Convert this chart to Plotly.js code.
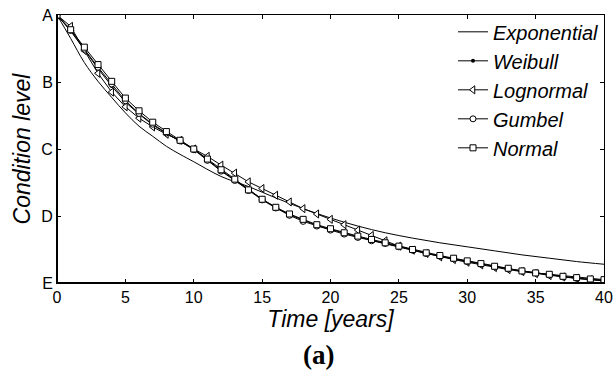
<!DOCTYPE html>
<html>
<head>
<meta charset="utf-8">
<script src="https://cdn.plot.ly/plotly-3.0.1.min.js"></script>
<style>html,body{margin:0;padding:0;background:#fff;}#chart{width:616px;height:380px;}</style>
</head>
<body>
<div id="chart"></div>
<script>
// Time axis (years)
const years = [0,1,2,3,4,5,6,7,8,9,10,11,12,13,14,15,16,17,18,19,20,21,22,23,24,25,26,27,28,29,30,31,32,33,34,35,36,37,38,39,40];
// Exponential model (smooth curve), sampled
const expYears = [0,1,2,3,4,5,6,7,8,9,10,12,14,16,18,20,22,24,26,28,30,32,34,36,38,40];
const expLevel = [1.00,1.35,1.71,1.99,2.23,2.46,2.66,2.81,2.96,3.08,3.19,3.41,3.56,3.73,3.89,4.03,4.15,4.25,4.33,4.40,4.46,4.52,4.58,4.63,4.68,4.72];
// Condition levels (1 = A ... 5 = E)
const weibull   = [1.00,1.24,1.52,1.80,2.06,2.30,2.48,2.64,2.77,2.88,3.00,3.16,3.32,3.46,3.61,3.75,3.87,3.98,4.06,4.14,4.20,4.26,4.31,4.36,4.41,4.46,4.51,4.55,4.60,4.64,4.68,4.72,4.76,4.79,4.82,4.85,4.88,4.91,4.93,4.95,4.96];
const lognormal = [1.00,1.17,1.53,1.87,2.15,2.37,2.54,2.67,2.78,2.87,3.00,3.11,3.24,3.36,3.49,3.59,3.69,3.79,3.89,3.97,4.05,4.13,4.21,4.29,4.37,4.45,4.51,4.56,4.61,4.65,4.69,4.73,4.77,4.80,4.83,4.86,4.89,4.91,4.93,4.95,4.96];
const gumbel    = [1.00,1.23,1.51,1.78,2.03,2.28,2.47,2.63,2.76,2.88,3.01,3.17,3.33,3.47,3.62,3.76,3.88,3.99,4.08,4.15,4.21,4.27,4.32,4.37,4.41,4.46,4.51,4.56,4.60,4.64,4.68,4.72,4.76,4.79,4.82,4.85,4.88,4.91,4.93,4.95,4.97];
const normal    = [1.00,1.22,1.48,1.74,1.99,2.24,2.43,2.60,2.74,2.87,3.00,3.15,3.31,3.45,3.61,3.75,3.87,3.97,4.05,4.13,4.19,4.25,4.30,4.35,4.40,4.45,4.50,4.55,4.59,4.63,4.67,4.71,4.75,4.78,4.82,4.85,4.87,4.90,4.92,4.94,4.95];
const levelVals = [1,2,3,4,5];
const levelText = ['A','B','C','D','E'];
const xTicks = [0,5,10,15,20,25,30,35,40];

const ln = {color:'#000', width:1};
const openMarker = (sym, size) => ({symbol:sym, size:size, color:'#fff', line:{color:'#000', width:1}});

const traces = [
  {x:expYears, y:expLevel, name:'Exponential', mode:'lines', line:{color:'#000', width:1, shape:'spline'}},
  {x:years, y:weibull, name:'Weibull', mode:'lines+markers', line:ln, marker:{symbol:'circle', size:4, color:'#000'}},
  {x:years, y:lognormal, name:'Lognormal', mode:'lines+markers', line:ln, marker:openMarker('triangle-left', 7)},
  {x:years, y:gumbel, name:'Gumbel', mode:'lines+markers', line:ln, marker:openMarker('circle', 6)},
  {x:years, y:normal, name:'Normal', mode:'lines+markers', line:ln, marker:openMarker('square', 6)}
];

const FONT = 'Arial, Liberation Sans, sans-serif';
const layout = {
  width:616, height:380,
  margin:{l:57, r:12, t:15, b:97},
  paper_bgcolor:'#fff', plot_bgcolor:'#fff',
  font:{family:FONT, color:'#000'},
  showlegend:true,
  legend:{x:1.0, xanchor:'right', y:1.01, yanchor:'top', bgcolor:'rgba(0,0,0,0)',
          font:{size:20, style:'italic', family:FONT}, tracegroupgap:0, itemwidth:30},
  xaxis:{range:[0,40], tickvals:xTicks, ticktext:xTicks.map(String), ticks:'inside', ticklen:4, tickcolor:'#000',
         showgrid:false, zeroline:false, showline:true, linecolor:'#000', linewidth:1, mirror:'ticks',
         tickfont:{size:16, family:FONT}, title:{text:'Time [years]', font:{size:23, style:'italic', family:FONT}, standoff:0}},
  yaxis:{range:[5,1], tickvals:levelVals, ticktext:levelText, ticks:'inside', ticklen:4, tickcolor:'#000',
         showgrid:false, zeroline:false, showline:true, linecolor:'#000', linewidth:1, mirror:'ticks',
         tickfont:{size:16, family:FONT}, ticklabelstandoff:0,
         title:{text:'Condition level', font:{size:23, style:'italic', family:FONT}, standoff:4}},
  shapes:[
    {type:'line', xref:'paper', yref:'paper', x0:0, x1:0, y0:0, y1:1, line:{color:'#000', width:2}},
    {type:'line', xref:'paper', yref:'paper', x0:0, x1:1, y0:0, y1:0, line:{color:'#000', width:2}}
  ],
  annotations:[
    {text:'<b>(a)</b>', xref:'paper', yref:'paper', x:0.478, y:-0.268, xanchor:'center', yanchor:'middle', showarrow:false,
     font:{family:'Liberation Serif, Times New Roman, serif', size:27, weight:'bold'}}
  ]
};

Plotly.newPlot('chart', traces, layout, {staticPlot:true, displayModeBar:false});
</script>
</body>
</html>
